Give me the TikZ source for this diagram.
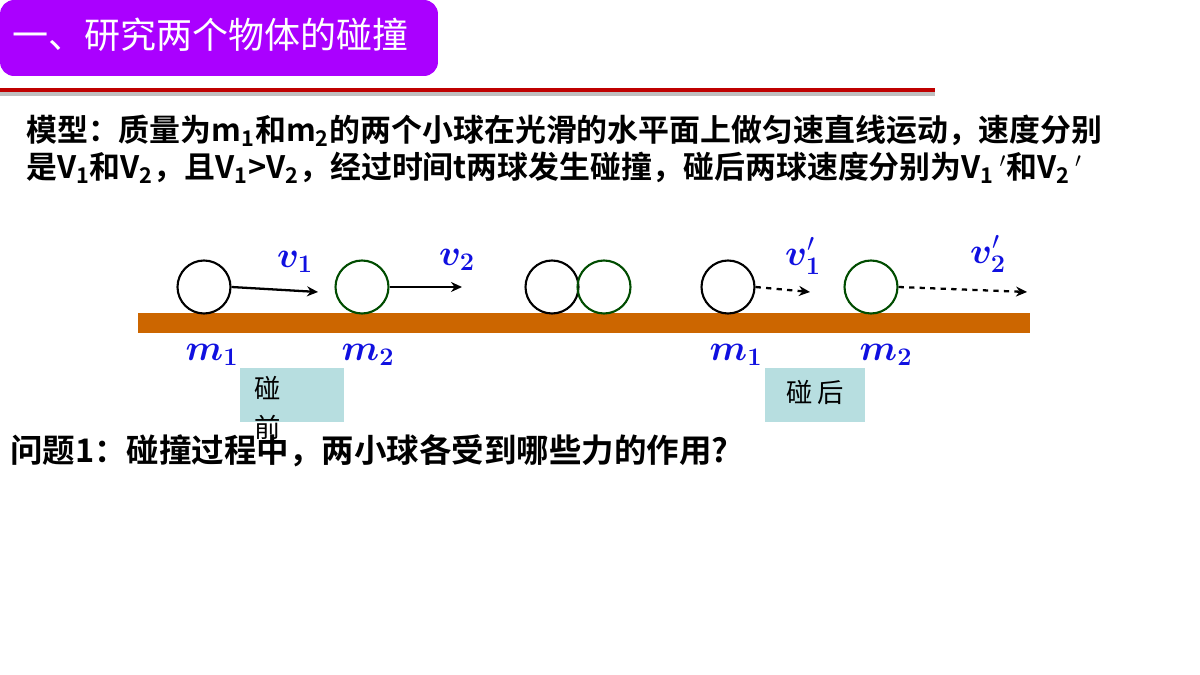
\documentclass[tikz,border=0pt]{standalone}
\usepackage{fontspec}
\usepackage{amsmath,bm}
\newfontfamily\cjk{Noto Sans CJK SC}
\newfontfamily\cjkbold{Noto Sans CJK SC}[BoldFont={* Bold}]
\usetikzlibrary{arrows.meta, positioning}
\definecolor{titlepurple}{HTML}{AA00FF}
\definecolor{groundbrown}{HTML}{CC6600}
\definecolor{tagcyan}{HTML}{B7DEE0}
\definecolor{velblue}{HTML}{1010E0}
\begin{document}
\begin{tikzpicture}[
    x=0.02cm, y=-0.02cm,
    >={Stealth[length=2.2mm, width=2mm]},
    ball/.style={draw, circle, line width=1.2pt, minimum size=1.06cm, inner sep=0pt},
    vel arrow/.style={->, line width=1.3pt},
    after arrow/.style={vel arrow, dashed},
    vlabel/.style={text=velblue, font=\fontsize{22}{22}\selectfont},
    mlabel/.style={text=velblue, font=\fontsize{22}{22}\selectfont},
    tagbox/.style={fill=tagcyan, minimum width=2.1cm, minimum height=1.08cm, inner sep=0pt},
    bodytext/.style={anchor=west, font=\cjkbold\bfseries\fontsize{17.6}{17.6}\selectfont}
]
    \useasboundingbox (0,0) rectangle (1200,675);

    % === Title ===
    \node[fill=titlepurple, rounded corners=8pt, minimum width=8.76cm, minimum height=1.52cm] (titlebox) at (219,38) {};
    \node[text=white, anchor=west, font=\cjk\fontsize{20.5}{20.5}\selectfont] (titletext) at (6,35) {一、研究两个物体的碰撞};
    \fill[black!25] (0,92) rectangle (935,96);
    \fill[red!75!black] (0,88) rectangle (935,92);

    % === Model text ===
    \node[bodytext] (line1) at (20,131) {模型：质量为m\textsubscript{1}和m\textsubscript{2}的两个小球在光滑的水平面上做匀速直线运动，速度分别};
    \node[bodytext] (line2) at (20,168) {是V\textsubscript{1}和V\textsubscript{2}，且V\textsubscript{1}>V\textsubscript{2}，经过时间t两球发生碰撞，碰后两球速度分别为V\textsubscript{1}\,$'$和V\textsubscript{2}\,$'$};

    % === Ground ===
    \fill[groundbrown] (138,313) rectangle (1030,333);

    % === Balls ===
    \node[ball] (b1) at (204,287) {};
    \node[ball, draw=black!70!green] (b2) at (362,287) {};
    \node[ball] (c1) at (552,287) {};
    \node[ball, draw=black!70!green] (c2) at (604,287) {};
    \node[ball] (a1) at (728,287) {};
    \node[ball, draw=black!70!green] (a2) at (871,287) {};

    % arrow ends
    \coordinate (e1) at (318,292);
    \coordinate (e2) at (462,287);
    \coordinate (e3) at (810,292);
    \coordinate (e4) at (1027,292);

    \draw[vel arrow] (b1.east) -- (e1);
    \draw[vel arrow] (b2.east) -- (e2);
    \draw[after arrow] (a1.east) -- (e3);
    \draw[after arrow] (a2.east) -- (e4);

    % === Labels ===
    \node[vlabel] (v1) at (295,262) {$\bm{v_1}$};
    \node[vlabel] (v2) at (457,260) {$\bm{v_2}$};
    \node[vlabel] (v1p) at (803,256) {$\bm{v_1}'$};
    \node[vlabel] (v2p) at (988,254) {$\bm{v_2}'$};

    \node[mlabel] (m1) at (212,355) {$\bm{m_1}$};
    \node[mlabel] (m2) at (368,355) {$\bm{m_2}$};
    \node[mlabel] (m1b) at (736,355) {$\bm{m_1}$};
    \node[mlabel] (m2b) at (886,355) {$\bm{m_2}$};

    % === Tags ===
    \node[tagbox] (before) at (292,395) {};
    \node[anchor=north west, font=\cjk\fontsize{15}{22}\selectfont, align=left, inner sep=0pt] (beforetext) at (254,376) {碰\\前};
    \node[tagbox, minimum width=2cm] (after) at (815,395) {};
    \node[font=\cjk\fontsize{15}{15}\selectfont] (aftertext) at (815,392) {碰\,后};

    % === Question ===
    \node[bodytext, font=\cjkbold\bfseries\fontsize{18.5}{18.5}\selectfont] (question) at (4,451) {问题1：碰撞过程中，两小球各受到哪些力的作用?};
\end{tikzpicture}
\end{document}
